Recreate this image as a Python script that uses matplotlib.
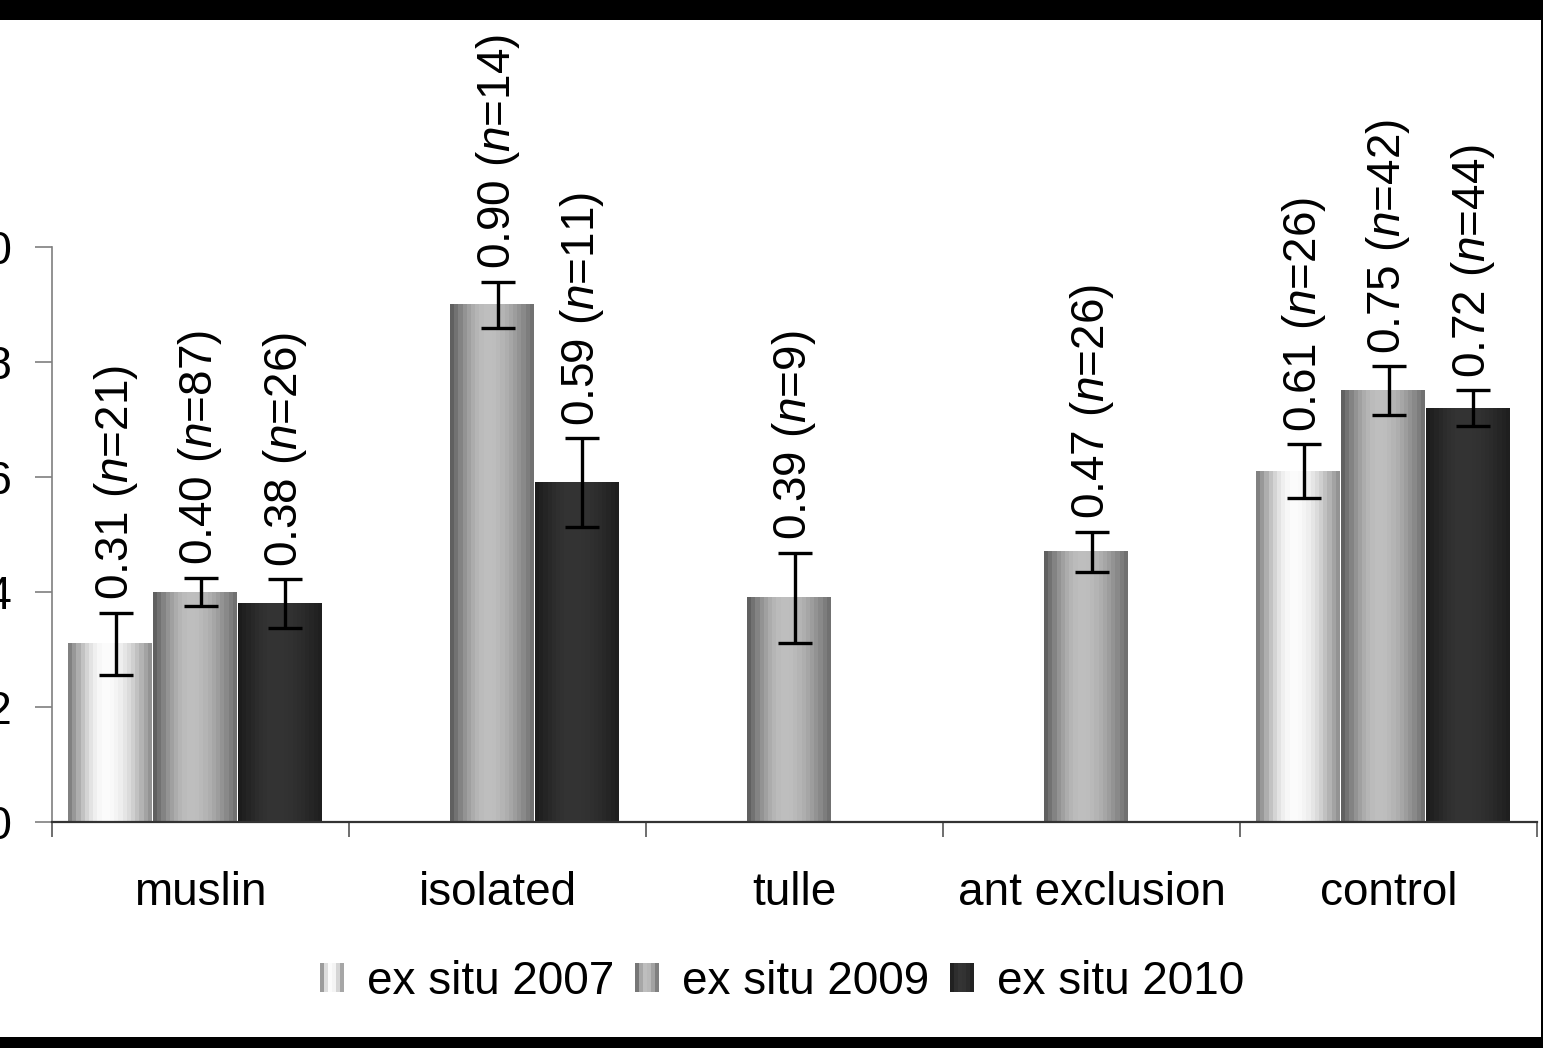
import numpy as np
import matplotlib
matplotlib.use("Agg")
import matplotlib.pyplot as plt
from matplotlib.patches import Rectangle, Patch
from matplotlib.legend_handler import HandlerBase

plt.rcParams["font.family"] = ["Liberation Sans", "DejaVu Sans"]
plt.rcParams["mathtext.fontset"] = "custom"
plt.rcParams["mathtext.rm"] = "Liberation Sans"
plt.rcParams["mathtext.it"] = "Liberation Sans:italic"

# ---- data -------------------------------------------------------------
categories = ["muslin", "isolated", "tulle", "ant exclusion", "control"]
series = ["ex situ 2007", "ex situ 2009", "ex situ 2010"]

mean_2007 = [0.31, np.nan, np.nan, np.nan, 0.61]
mean_2009 = [0.40, 0.90, 0.39, 0.47, 0.75]
mean_2010 = [0.38, 0.59, np.nan, np.nan, 0.72]

se_2007 = [0.054, np.nan, np.nan, np.nan, 0.047]
se_2009 = [0.025, 0.040, 0.078, 0.035, 0.043]
se_2010 = [0.042, 0.077, np.nan, np.nan, 0.031]

n_2007 = [21, None, None, None, 26]
n_2009 = [87, 14, 9, 26, 42]
n_2010 = [26, 11, None, None, 44]

y_ticks = [0.0, 0.2, 0.4, 0.6, 0.8, 1.0]

means = [mean_2007, mean_2009, mean_2010]
errors = [se_2007, se_2009, se_2010]
counts = [n_2007, n_2009, n_2010]

# gradient stops per series: (left edge, centre highlight, right edge) grey levels
shades = [(0x76, 0xfc, 0x8c), (0x58, 0xbf, 0x6c), (0x1a, 0x34, 0x1e)]


def stripe_levels(left, peak, right, n=20, tpeak=0.45):
    t = (np.arange(n) + 0.5) / n
    out = np.empty(n)
    lo = t < tpeak
    s = t[lo] / tpeak
    out[lo] = left + (peak - left) * np.sin(np.pi / 2 * s)
    s = (t[~lo] - tpeak) / (1 - tpeak)
    out[~lo] = right + (peak - right) * np.cos(np.pi / 2 * s)
    return out / 255.0


class GradientHandler(HandlerBase):
    def __init__(self, shade, nstripes=6):
        super().__init__()
        self.levels = stripe_levels(*shade, n=nstripes)

    def create_artists(self, legend, orig_handle, xdescent, ydescent,
                       width, height, fontsize, trans):
        arts = []
        n = len(self.levels)
        w = width / n
        for k, g in enumerate(self.levels):
            arts.append(Rectangle((-xdescent + k * w, -ydescent), w * 1.02, height,
                                  facecolor=(g, g, g), edgecolor="none",
                                  transform=trans))
        return arts


# ---- figure -----------------------------------------------------------
W, H = 1543, 1048
fig = plt.figure(figsize=(W / 100, H / 100), dpi=100)
ax = fig.add_axes([52 / W, 1 - 822 / H, (1537 - 52) / W, (822 - 247) / H])

x = np.arange(len(categories))
pitch = 0.286
width = 0.28
bar_shift = -0.02

for s_idx in range(3):
    off = (s_idx - 1) * pitch
    vals = np.array(means[s_idx], dtype=float)
    errs = np.array(errors[s_idx], dtype=float)
    ok = ~np.isnan(vals)
    bars = ax.bar(x[ok] + off + bar_shift, vals[ok], width=width,
                  facecolor="none", edgecolor="none", zorder=2)
    levels = stripe_levels(*shades[s_idx])
    img = np.repeat(levels[None, :, None], 3, axis=2)
    for b in bars:
        x0, w, h = b.get_x(), b.get_width(), b.get_height()
        ax.imshow(img, extent=[x0, x0 + w, 0, h], aspect="auto",
                  interpolation="nearest", zorder=2)
    ax.errorbar(x[ok] + off, vals[ok], yerr=errs[ok], fmt="none",
                ecolor="black", elinewidth=2.4, capsize=12, capthick=2.4,
                zorder=3)
    for xi, v, e, n in zip(x[ok] + off, vals[ok], errs[ok],
                           np.array(counts[s_idx], dtype=object)[ok]):
        ax.annotate(f"{v:.2f} ($n$={n})", xy=(xi, v + e), xytext=(0, 9),
                    textcoords="offset points", rotation=90, ha="center",
                    va="bottom", fontsize=33, color="black",
                    annotation_clip=False, zorder=4)

ax.set_xlim(-0.5, len(categories) - 0.5)
ax.set_ylim(0, 1.0)

ax.set_yticks(y_ticks)
ax.set_yticklabels([f"{t:.1f}" for t in y_ticks])
ax.tick_params(axis="y", direction="out", length=12.5, width=1.2,
               color="#7f7f7f", pad=16, labelsize=33)

ax.set_xticks(x)
ax.set_xticklabels(categories)
ax.set_xticks(np.arange(len(categories) + 1) - 0.5, minor=True)
ax.tick_params(axis="x", which="major", length=0, pad=35, labelsize=33)
ax.tick_params(axis="x", which="minor", direction="out", length=10.5,
               width=1.2, color="#555555")

for side in ("top", "right"):
    ax.spines[side].set_visible(False)
ax.spines["left"].set_color("#7f7f7f")
ax.spines["left"].set_linewidth(1.2)
ax.spines["bottom"].set_color("#333333")
ax.spines["bottom"].set_linewidth(1.6)

# legend with striped swatches
proxies = [Patch(label=s) for s in series]
hmap = {p: GradientHandler(shades[i]) for i, p in enumerate(proxies)}
fig.legend(handles=proxies, handler_map=hmap, loc="center",
           bbox_to_anchor=(782 / W, 1 - 982 / H), ncol=3, frameon=False,
           fontsize=33, handlelength=0.52, handleheight=0.6,
           handletextpad=0.5, columnspacing=0.46, borderpad=0)

# black frame bands
for (x0, y0, w0, h0) in [(0, H - 20, W, 20), (0, 0, W, 11), (W - 2, 0, 2, H)]:
    fig.add_artist(Rectangle((x0 / W, y0 / H), w0 / W, h0 / H,
                             transform=fig.transFigure, facecolor="black",
                             edgecolor="none", zorder=10))

fig.savefig("out.png", dpi=100)
